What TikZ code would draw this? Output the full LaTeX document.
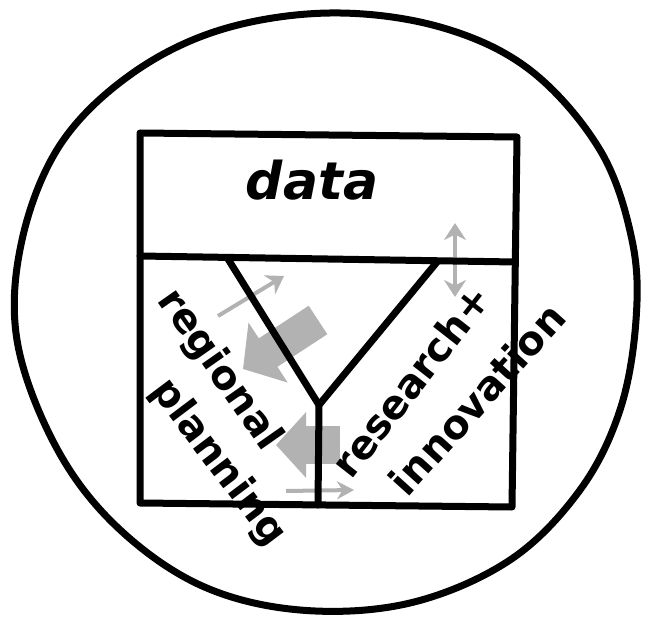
\documentclass[tikz,border=0pt]{standalone}
\usepackage{fontspec}
\setmainfont{DejaVu Sans}
\usetikzlibrary{arrows.meta}
\begin{document}
\begin{tikzpicture}[x=1pt,y=-1pt,
    ink/.style={line width=7pt, line cap=round, line join=round},
    pencil/.style={draw=gray!60, fill=gray!60},
    word/.style={font=\bfseries\fontsize{40}{40}\selectfont, inner sep=0pt}]
  \useasboundingbox (0,0) rectangle (650,617);

  % OUTER CIRCLE
  \draw[ink] plot[smooth cycle, tension=0.6] coordinates {
    (330,13) (440,27) (530,70) (600,150) (632,240) (636,320)
    (620,410) (580,490) (510,560) (410,603) (300,610) (200,585)
    (115,525) (55,445) (17,340) (22,240) (60,145) (130,75) (220,30)};

  % PENCIL ARROWS
  \coordinate (up1) at (318,320);
  \coordinate (up2) at (243,369);
  \coordinate (lo1) at (340,445);
  \coordinate (lo2) at (276,445);
  \coordinate (th1) at (218,316);
  \coordinate (th2) at (284,276);
  \coordinate (vt1) at (455,297);
  \coordinate (vt2) at (455,223);
  \coordinate (bt1) at (286,491);
  \coordinate (bt2) at (354,490);

  \draw[pencil, line width=34pt, -{Triangle[width=70pt,length=30pt]}] (up1) -- (up2);
  \draw[pencil, line width=38pt, -{Triangle[width=64pt,length=30pt]}] (lo1) -- (lo2);
  \draw[pencil, line width=4pt, -{Stealth[length=17pt,width=22pt]}] (th1) -- (th2);
  \draw[pencil, line width=4pt, {Stealth[length=17pt,width=22pt]}-{Stealth[length=17pt,width=22pt]}] (vt1) -- (vt2);
  \draw[pencil, line width=4pt, -{Stealth[length=17pt,width=18pt]}] (bt1) -- (bt2);

  % BOX
  \coordinate (tl) at (140,133);
  \coordinate (tr) at (517,137);
  \coordinate (br) at (512,507);
  \coordinate (bl) at (140,503);
  \coordinate (ml) at (140,256);
  \coordinate (mr) at (515,262);
  \draw[ink] (tl) -- (tr) -- (br) -- (bl) -- cycle;
  \draw[ink] (ml) -- (mr);

  % THE Y
  \coordinate (ya) at (228,259);
  \coordinate (yb) at (437,262);
  \coordinate (yj) at (319,405);
  \coordinate (ys) at (318,505);
  \draw[ink] (ya) -- (yj) -- (yb);
  \draw[ink] (yj) -- (ys);

  % WORDS
  \node[word, font=\bfseries\itshape\fontsize{52}{52}\selectfont] (data) at (312,180) {data};
  \node[word, rotate=-55] (regional) at (219,370) {regional};
  \node[word, rotate=-53] (planning) at (218,463) {planning};
  \node[word, rotate=52] (research) at (411,381) {research+};
  \node[word, rotate=48] (innovation) at (477,399) {innovation};
\end{tikzpicture}
\end{document}
